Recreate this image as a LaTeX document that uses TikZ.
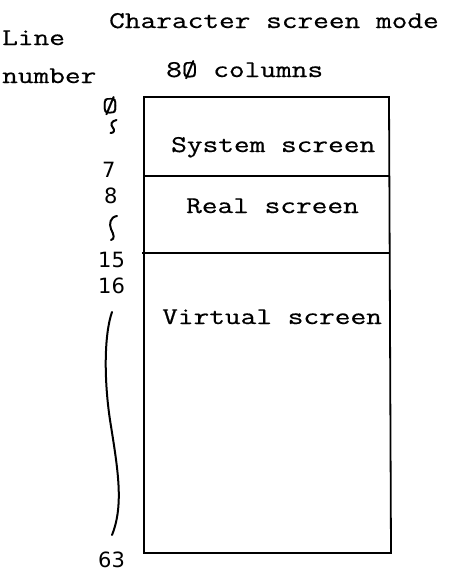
\documentclass[tikz,border=0pt]{standalone}
\usepackage{fontspec}
\newfontfamily\typer[FakeStretch=1.27,FakeBold=0.6]{Latin Modern Mono}
\newfontfamily\digitfont{DejaVu Sans}
\begin{document}
\begin{tikzpicture}[x=1pt,y=-1pt,
  txt/.style={anchor=base west,inner sep=0pt,font=\typer\fontsize{24}{28}\selectfont},
  num/.style={anchor=base west,inner sep=0pt,font=\digitfont\fontsize{21}{24}\selectfont},
  frame/.style={draw=black,line width=1.8pt},
  wave/.style={draw=black,line width=2pt,line cap=round}]
\useasboundingbox (0,0) rectangle (448,573);

% headings
\node[txt] (title) at (109,28) {Character screen mode};
\node[txt] (line) at (2,45) {Line};
\node[txt] (number) at (2,83) {number};
\node[txt] (cols) at (166,77) {8Ø columns};

% screen areas
\coordinate (tl) at (144,97);
\coordinate (tr) at (389,97);
\coordinate (ml) at (144,176);
\coordinate (mr) at (389,176);
\coordinate (nl) at (142,253);
\coordinate (nr) at (389,253);
\coordinate (bl) at (144,553);
\coordinate (br) at (391,553);
\draw[frame] (tl) -- (tr) -- (br) -- (bl) -- cycle;
\draw[frame] (ml) -- (mr);
\draw[frame] (nl) -- (nr);

\node[txt] (sys) at (171,152) {System screen};
\node[txt] (real) at (186,213) {Real screen};
\node[txt] (virt) at (162,324) {Virtual screen};

% line numbers
\node[txt] (l0) at (102,113) {Ø};
\node[num] (l7) at (102,177) {7};
\node[num] (l8) at (104,203) {8};
\node[num] (l15) at (98,267) {15};
\node[num] (l16) at (98,293) {16};
\node[num] (l63) at (98,567) {63};

% range marks
\draw[wave] (116.5,120) .. controls (111,121) and (110.5,125) .. (112.5,127)
  .. controls (115,130) and (114.5,133) .. (110.5,133);
\draw[wave] (117,216) .. controls (110,217) and (109,224) .. (111,229)
  .. controls (114,235) and (115,239) .. (111,240);
\draw[wave] (112,312) .. controls (104,335) and (104,380) .. (110,420)
  .. controls (118,470) and (124,505) .. (112,535);
\end{tikzpicture}
\end{document}
